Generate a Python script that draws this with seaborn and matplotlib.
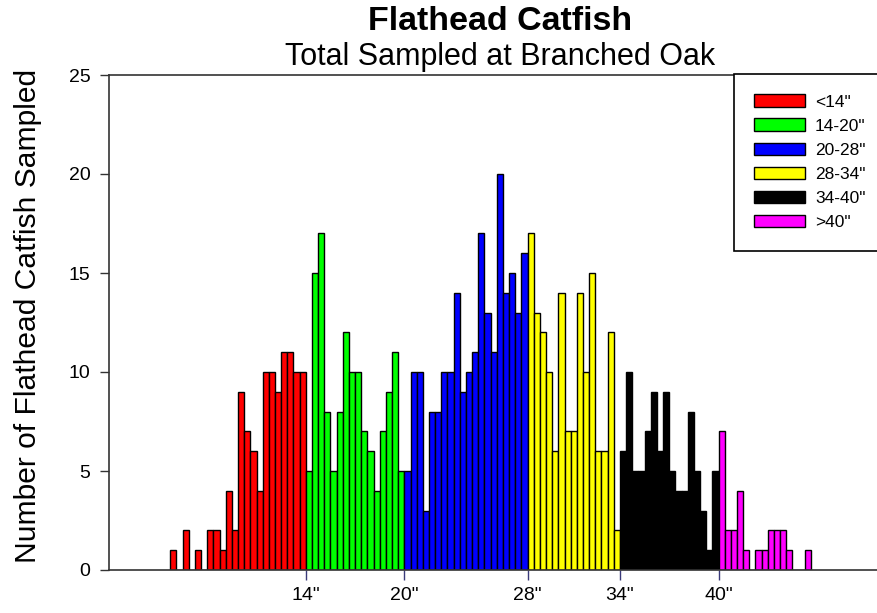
"""Flathead catfish length-frequency histogram, Branched Oak."""
import matplotlib
matplotlib.use("Agg")
import matplotlib.pyplot as plt
from matplotlib.patches import Patch
import numpy as np
import pandas as pd
import seaborn as sns

# counts per length bin, grouped by size class (bins left to right)
size_classes = ['<14"', '14-20"', '20-28"', '28-34"', '34-40"', '>40"']
class_colors = ["#ff0000", "#00ff00", "#0000ff", "#ffff00", "#000000", "#ff00ff"]
counts_lt14 = [1, 0, 2, 0, 1, 0, 2, 2, 1, 4, 2, 9, 7, 6, 4, 10, 10, 9, 11, 11, 10, 10]
counts_14_20 = [5, 15, 17, 8, 5, 8, 12, 10, 10, 7, 6, 4, 7, 9, 11, 5]
counts_20_28 = [5, 10, 10, 3, 8, 8, 10, 10, 14, 9, 10, 11, 17, 13, 11, 20, 14, 15, 13, 16]
counts_28_34 = [17, 13, 12, 10, 6, 14, 7, 7, 14, 10, 15, 6, 6, 12, 2]
counts_34_40 = [6, 10, 5, 5, 7, 9, 6, 9, 5, 4, 4, 8, 5, 3, 1, 5]
counts_gt40 = [7, 2, 2, 4, 1, 0, 1, 1, 2, 2, 2, 1, 0, 0, 1]
tick_labels = ['14"', '20"', '28"', '34"', '40"']

groups = [counts_lt14, counts_14_20, counts_20_28, counts_28_34, counts_34_40, counts_gt40]
rows = []
for name, vals in zip(size_classes, groups):
    for v in vals:
        rows.append((name, v))
df = pd.DataFrame(rows, columns=["size", "count"])
df["bin"] = np.arange(len(df))

# class boundaries fall on bin edges
edges = np.cumsum([len(g) for g in groups])[:-1] - 0.5

sns.set_style("white")
plt.rcParams["font.family"] = ["Liberation Sans", "DejaVu Sans"]
plt.rcParams["text.color"] = "black"
plt.rcParams["xtick.color"] = "black"
plt.rcParams["ytick.color"] = "black"
plt.rcParams["axes.labelcolor"] = "black"

W, H = 877, 613
fig = plt.figure(figsize=(W / 100, H / 100), dpi=100)
ax = fig.add_axes([109.3 / W, 1 - 570 / H, (891 - 109.3) / W, (570 - 75) / H])

sns.barplot(
    data=df, x="bin", y="count", hue="size",
    palette=dict(zip(size_classes, class_colors)), saturation=1,
    native_scale=True, width=1, dodge=False, errorbar=None,
    edgecolor="black", linewidth=1.0, legend=False, ax=ax,
)

ax.set_xlim(-10.4, 116.5)
ax.set_ylim(0, 25)
ax.set_yticks([0, 5, 10, 15, 20, 25])
ax.set_xticks(edges)
ax.set_xticklabels(tick_labels)
ax.set_xlabel("")
ax.set_ylabel("Number of Flathead Catfish Sampled", fontsize=21.6)
ax.yaxis.set_label_coords(-0.086, 0.513)

for side in ["left", "bottom", "top"]:
    ax.spines[side].set_color("#333333")
    ax.spines[side].set_linewidth(1.2)
ax.spines["right"].set_visible(False)

ax.tick_params(axis="y", direction="out", length=6.5, width=1.0, color="#333333",
               pad=7, labelsize=14, left=True)
ax.tick_params(axis="x", direction="out", length=7, width=1.0, color="#3a3a7a",
               pad=5, labelsize=14, bottom=True)

handles = [Patch(facecolor=c, edgecolor="black", linewidth=1.0) for c in class_colors]
leg = ax.legend(
    handles, size_classes, loc="upper left", mode="expand",
    bbox_to_anchor=(734 / W, 1 - 248 / H, 170 / W, (248 - 74) / H),
    bbox_transform=fig.transFigure,
    fontsize=12.5, handlelength=2.9, handleheight=0.75, handletextpad=0.6,
    labelspacing=0.5, borderpad=1.17, borderaxespad=0, fancybox=False, framealpha=1,
)
leg.get_frame().set_edgecolor("black")
leg.get_frame().set_linewidth(1.2)

fig.text(500 / W, 1 - 21 / H, "Flathead Catfish", ha="center", va="center",
         fontsize=24.5, fontweight="bold")
fig.text(500 / W, 1 - 57 / H, "Total Sampled at Branched Oak", ha="center",
         va="center", fontsize=22)

fig.savefig("out.png", dpi=100)
plt.close(fig)
